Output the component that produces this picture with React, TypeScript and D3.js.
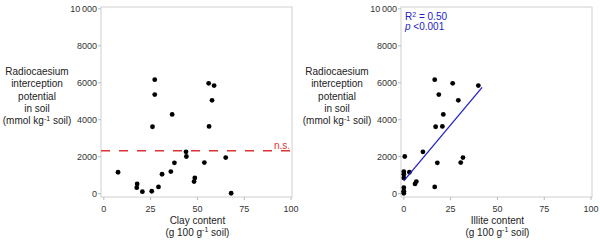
import React, { useEffect, useRef } from 'react';
import * as d3 from 'd3';

// 24 soils: clay content, illite content (g 100 g-1 soil) and RIP (mmol kg-1)
const clay = [7.6, 17.8, 17.6, 20.6, 25.6, 26, 27.2, 27.2, 29.2, 31.1, 35.8, 36.5, 37.7, 43.9, 44.1, 48.2, 48.6, 53.7, 56, 56.2, 57.8, 58.9, 65.1, 68];
const illite = [3, 6, 0, 0, 0, 17, 18.7, 16.5, 16.5, 0, 0, 21.1, 17.9, 10.2, 0.5, 6.7, 0, 30.4, 26.1, 20.6, 29.1, 39.8, 31.6, 0];
const rip = [1160, 527, 326, 109, 130, 3620, 5360, 6170, 364, 1050, 1195, 4290, 1667, 2264, 2010, 652, 853, 1683, 5973, 3638, 5050, 5848, 1955, 22];

const xTicks = [0, 25, 50, 75, 100];
const yTicks = [0, 2000, 4000, 6000, 8000, 10000];
const yTitle = ['Radiocaesium', 'interception', 'potential', 'in soil'];

const nsLevel = 2320; // clay: not significant
const fitLine = [[0, 690], [41.8, 5750]]; // illite regression
const fitText = ['R', '= 0.50', '<0.001'];

const FONT = '"Liberation Sans", Arial, sans-serif';

export default function App() {
  const svgRef = useRef<SVGSVGElement>(null);

  useEffect(() => {
    if (!svgRef.current) return;
    const svg = d3.select(svgRef.current);
    svg.selectAll('*').remove();

    const panel = (x0: number, xLabel: string, xs: number[]) => {
      const x = d3.scaleLinear().domain([-1.5, 100.5]).range([x0 + 101, x0 + 292]);
      const y = d3.scaleLinear().domain([-180, 10100]).range([197, 7]);
      const g = svg.append('g').style('font-family', FONT);

      g.append('rect')
        .attr('x', x0 + 101).attr('y', 7)
        .attr('width', 191).attr('height', 190)
        .attr('fill', 'none').attr('stroke', '#cfcfcf').attr('stroke-width', 1);

      // y axis
      g.selectAll('.yt').data(yTicks).join('line')
        .attr('x1', x0 + 98).attr('x2', x0 + 101)
        .attr('y1', d => y(d)).attr('y2', d => y(d))
        .attr('stroke', '#bbb');
      g.selectAll('.yl').data(yTicks).join('text')
        .attr('x', x0 + 97).attr('y', d => y(d) + 3.3)
        .attr('text-anchor', 'end')
        .style('font-size', '9px').attr('fill', '#333')
        .text(d => d === 10000 ? '10\u2009000' : String(d));

      // x axis
      g.selectAll('.xt').data(xTicks).join('line')
        .attr('x1', d => x(d)).attr('x2', d => x(d))
        .attr('y1', 197).attr('y2', 200)
        .attr('stroke', '#bbb');
      g.selectAll('.xl').data(xTicks).join('text')
        .attr('x', d => x(d)).attr('y', 211.5)
        .attr('text-anchor', 'middle')
        .style('font-size', '9px').attr('fill', '#333')
        .text(d => d);

      // titles
      const cx = x0 + 37;
      yTitle.forEach((t, i) => {
        g.append('text').attr('x', cx).attr('y', 75 + i * 12.3)
          .attr('text-anchor', 'middle').style('font-size', '10px').attr('fill', '#222').text(t);
      });
      const unit = g.append('text').attr('x', cx).attr('y', 124.2)
        .attr('text-anchor', 'middle').style('font-size', '10px').attr('fill', '#222');
      unit.append('tspan').text('(mmol kg');
      unit.append('tspan').attr('dy', -3.5).style('font-size', '7px').text('-1');
      unit.append('tspan').attr('dy', 3.5).text(' soil)');

      const mx = x(50);
      g.append('text').attr('x', mx).attr('y', 224)
        .attr('text-anchor', 'middle').style('font-size', '10px').attr('fill', '#222').text(xLabel);
      const xu = g.append('text').attr('x', mx).attr('y', 235.5)
        .attr('text-anchor', 'middle').style('font-size', '10px').attr('fill', '#222');
      xu.append('tspan').text('(g 100 g');
      xu.append('tspan').attr('dy', -3.5).style('font-size', '7px').text('-1');
      xu.append('tspan').attr('dy', 3.5).text(' soil)');

      // points
      g.selectAll('circle').data(xs.map((v, i) => [v, rip[i]])).join('circle')
        .attr('cx', d => x(d[0])).attr('cy', d => y(d[1]))
        .attr('r', 2.4).attr('fill', '#000');

      return { g, x, y };
    };

    const left = panel(0, 'Clay content', clay);
    left.g.append('line')
      .attr('x1', 101).attr('x2', 292)
      .attr('y1', left.y(nsLevel)).attr('y2', left.y(nsLevel))
      .attr('stroke', '#d93535').attr('stroke-width', 1.6)
      .attr('stroke-dasharray', '9,9');
    left.g.append('text')
      .attr('x', 290).attr('y', left.y(nsLevel) - 2)
      .attr('text-anchor', 'end').style('font-size', '10px')
      .attr('fill', '#d93535').text('n.s.');

    const right = panel(300, 'Illite content', illite);
    const line = d3.line<number[]>().x(d => right.x(d[0])).y(d => right.y(d[1]));
    right.g.append('path')
      .attr('d', line(fitLine) ?? '')
      .attr('fill', 'none').attr('stroke', '#2323c8').attr('stroke-width', 1.3);
    const r2 = right.g.append('text').attr('x', 405).attr('y', 20)
      .style('font-size', '10px').attr('fill', '#2323c8');
    r2.append('tspan').text(fitText[0]);
    r2.append('tspan').attr('dy', -3.5).style('font-size', '7px').text('2');
    r2.append('tspan').attr('dy', 3.5).text(' ' + fitText[1]);
    const pv = right.g.append('text').attr('x', 405).attr('y', 30)
      .style('font-size', '10px').attr('fill', '#2323c8');
    pv.append('tspan').style('font-style', 'italic').text('p');
    pv.append('tspan').text(' ' + fitText[2]);
  }, []);

  return (
    <div style={{ position: 'absolute', left: 0, top: 0, width: 600, height: 245, background: '#fff' }}>
      <svg ref={svgRef} width={600} height={245} />
    </div>
  );
}
